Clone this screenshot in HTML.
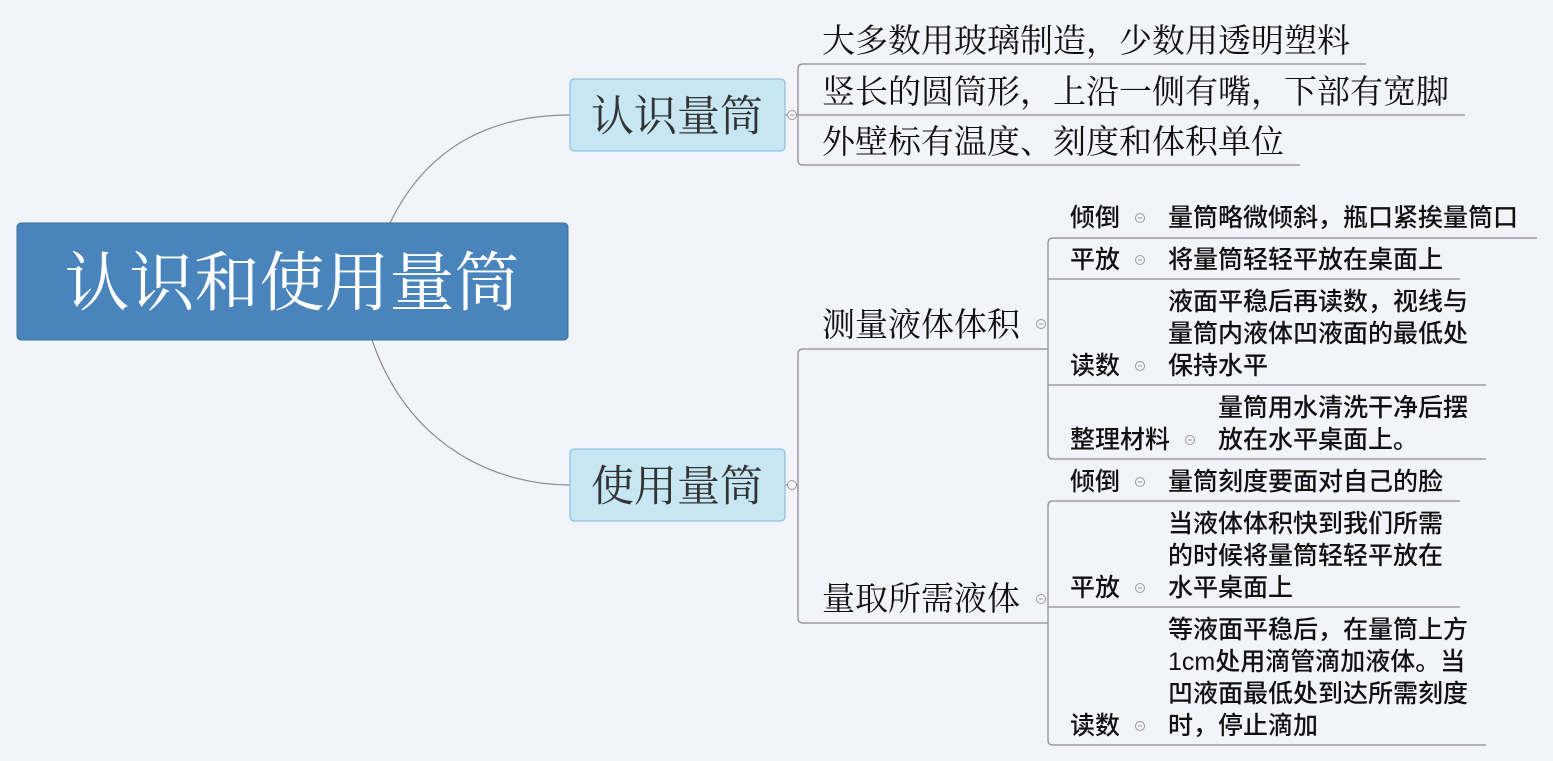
<!DOCTYPE html>
<html><head><meta charset="utf-8"><style>
html,body{margin:0;padding:0;background:#f3f4f9;}
svg{display:block}
.s{font-family:"Liberation Serif","Noto Serif CJK SC",serif;fill:#111;}
.a{font-family:"Liberation Sans","Noto Sans CJK SC",sans-serif;fill:#111;font-size:25px;font-weight:500;}
</style></head><body>
<svg width="1553" height="761" viewBox="0 0 1553 761" xmlns="http://www.w3.org/2000/svg">
<rect width="1553" height="761" fill="#f3f4f9"/>
<g fill="none" stroke="#8a8a8a" stroke-width="1.2">
<path d="M390 223 C430 140 500 115 570 115"/>
<path d="M372 340 C410 450 500 485 570 485"/>
<path d="M785 115 H798"/>
<path d="M1366 64 H803 Q798 64 798 69 V160 Q798 165 803 165 H1300"/>
<path d="M798 115 H1465"/>
<path d="M785 485 H798"/>
<path d="M1048 349 H803 Q798 349 798 354 V618 Q798 623 803 623 H1048"/>
<path d="M1537 238 H1053 Q1048 238 1048 243 V454 Q1048 459 1053 459 H1486"/>
<path d="M1048 279 H1460"/>
<path d="M1048 385 H1486"/>
<path d="M1460 501 H1053 Q1048 501 1048 506 V740 Q1048 745 1053 745 H1486"/>
<path d="M1048 607 H1460"/>
</g>
<rect x="17" y="223" width="551" height="117" rx="4" fill="#4a84bd" stroke="#3d6f9f"/>
<text x="292" y="305" class="s" font-size="65" style="fill:#fff" text-anchor="middle">认识和使用量筒</text>
<rect x="570" y="79" width="215" height="72" rx="4" fill="#c5e6f2" stroke="#7ab8dc"/>
<text x="677" y="131" class="s" font-size="43" text-anchor="middle" style="fill:#333">认识量筒</text>
<rect x="570" y="449" width="215" height="72" rx="4" fill="#c5e6f2" stroke="#7ab8dc"/>
<text x="677" y="501" class="s" font-size="43" text-anchor="middle" style="fill:#333">使用量筒</text>
<g fill="#f3f4f9" stroke="#999" stroke-width="1">
<circle cx="792" cy="115" r="4.5"/><circle cx="792" cy="485" r="4.5"/>
<circle cx="1041" cy="324" r="4.5"/><circle cx="1041" cy="599" r="4.5"/>
<circle cx="1140" cy="218" r="4.5"/><circle cx="1140" cy="260" r="4.5"/>
<circle cx="1140" cy="366" r="4.5"/><circle cx="1190" cy="440" r="4.5"/>
<circle cx="1140" cy="482" r="4.5"/><circle cx="1140" cy="588" r="4.5"/>
<circle cx="1140" cy="726" r="4.5"/>
</g>
<g stroke="#999" stroke-width="1">
<path d="M790 115h4M1039 324h4M1039 599h4M1138 218h4M1138 260h4M1138 366h4M1188 440h4M1138 482h4M1138 588h4M1138 726h4"/>
</g>
<g class="s" font-size="33">
<text x="822" y="52">大多数用玻璃制造，少数用透明塑料</text>
<text x="822" y="103">竖长的圆筒形，上沿一侧有嘴，下部有宽脚</text>
<text x="822" y="153">外壁标有温度、刻度和体积单位</text>
<text x="822" y="336">测量液体体积</text>
<text x="822" y="610">量取所需液体</text>
</g>
<g class="a">
<text x="1070" y="226">倾倒</text><text x="1168" y="226">量筒略微倾斜，瓶口紧挨量筒口</text>
<text x="1070" y="268">平放</text><text x="1168" y="268">将量筒轻轻平放在桌面上</text>
<text x="1168" y="310">液面平稳后再读数，视线与</text>
<text x="1168" y="342">量筒内液体凹液面的最低处</text>
<text x="1168" y="374">保持水平</text><text x="1070" y="374">读数</text>
<text x="1218" y="416">量筒用水清洗干净后摆</text>
<text x="1218" y="448">放在水平桌面上。</text><text x="1070" y="448">整理材料</text>
<text x="1070" y="490">倾倒</text><text x="1168" y="490">量筒刻度要面对自己的脸</text>
<text x="1168" y="532">当液体体积快到我们所需</text>
<text x="1168" y="564">的时候将量筒轻轻平放在</text>
<text x="1168" y="596">水平桌面上</text><text x="1070" y="596">平放</text>
<text x="1168" y="638">等液面平稳后，在量筒上方</text>
<text x="1168" y="670">1cm处用滴管滴加液体。当</text>
<text x="1168" y="702">凹液面最低处到达所需刻度</text>
<text x="1168" y="734">时，停止滴加</text><text x="1070" y="734">读数</text>
</g>
</svg>
</body></html>
